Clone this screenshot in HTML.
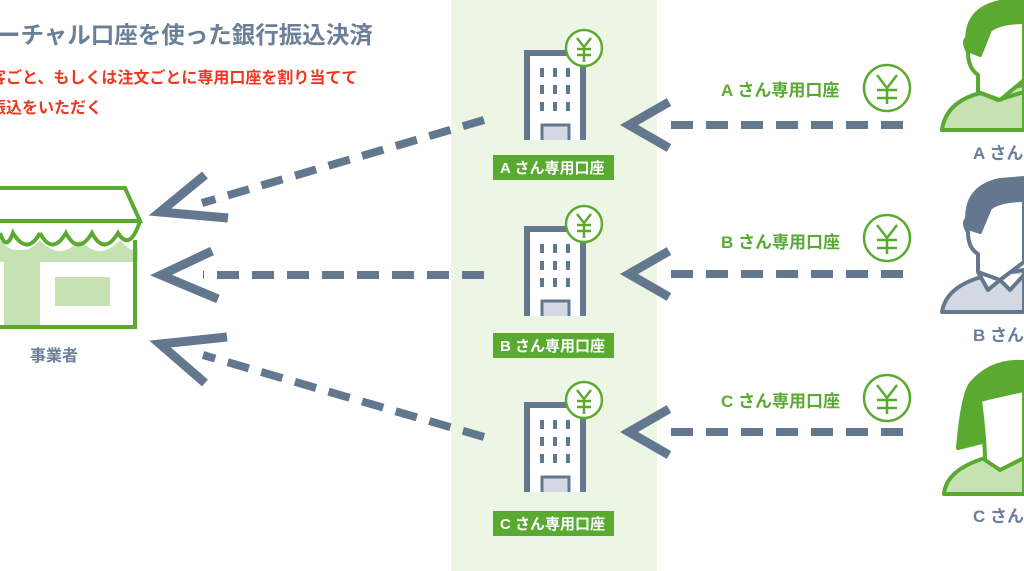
<!DOCTYPE html>
<html><head><meta charset="utf-8"><style>
html,body{margin:0;padding:0;background:#fff;width:1024px;height:571px;overflow:hidden}
svg{display:block}
text{font-family:"Liberation Sans","Noto Sans CJK JP",sans-serif;font-weight:bold}
</style></head><body>
<svg width="1024" height="571" viewBox="0 0 1024 571" xmlns="http://www.w3.org/2000/svg">
<rect x="451" y="0" width="206" height="571" fill="#edf5e5"/>
<text x="-3" y="43" font-size="23.5" fill="#6b7f99">ーチャル口座を使った銀行振込決済</text>
<text x="-10" y="83" font-size="16" fill="#f0361c">客ごと、もしくは注文ごとに専用口座を割り当てて</text>
<text x="-10" y="113" font-size="16" fill="#f0361c">振込をいただく</text>

<!-- shop -->
<g stroke="#5aaa32" stroke-width="4" fill="none">
<rect x="4" y="250" width="36" height="77" fill="#c6e2b3" stroke="none"/>
<rect x="55" y="277" width="55" height="29" fill="#c6e2b3" stroke="none"/>
<path d="M0 240 Q20 262 40 240 Q60 262 80 240 Q100 262 120 240 Q132 254 138 248 L138 262 L0 262 Z" fill="#c6e2b3" stroke="none"/>
<path d="M-2 188 L125 188 L140 221 L-2 221"/>
<path d="M0 233 Q6 252 13 233 Q27 256 40 233 M40 233 Q52 256 66 233 Q78 256 92 233 Q104 256 118 233 Q130 252 140 221"/>
<path d="M135 240 L135 327 L-2 327"/>
</g>
<text x="30" y="361" font-size="16" fill="#6b7f99">事業者</text>

<!-- left arrows -->
<g stroke="#63788f" stroke-width="8" fill="none">
<path d="M484 120 L202 203" stroke-dasharray="22 13"/>
<path d="M205 175 L160 212 L228 218" stroke-width="9"/>
<path d="M484 275 L203 275" stroke-dasharray="22 13"/>
<path d="M212 251 L161 275 L218 299" stroke-width="9"/>
<path d="M484 437 L203 355" stroke-dasharray="22 13"/>
<path d="M227 337 L160 344 L205 383" stroke-width="9"/>
</g>

<!-- buildings -->
<g id="bld">
<rect x="527" y="53" width="56" height="90" fill="#fff" stroke="#63788f" stroke-width="6"/>
<g fill="#63788f">
<rect x="540" y="68" width="4" height="9"/><rect x="553" y="68" width="4" height="9"/><rect x="566" y="68" width="4" height="9"/>
<rect x="540" y="85" width="4" height="9"/><rect x="553" y="85" width="4" height="9"/><rect x="566" y="85" width="4" height="9"/>
<rect x="540" y="102" width="4" height="9"/><rect x="553" y="102" width="4" height="9"/><rect x="566" y="102" width="4" height="9"/>
</g>
<rect x="542" y="125" width="27" height="18" fill="#d3d9e3" stroke="#63788f" stroke-width="3"/>
<rect x="520" y="140" width="70" height="6" fill="#edf5e5"/>
<circle cx="584" cy="48" r="18" fill="#fff" stroke="#5aaa32" stroke-width="2.5"/>
<path d="M577 38 L584 47 L591 38 M577 49 H591 M577 55 H591 M584 47 V62" stroke="#5aaa32" stroke-width="2.5" fill="none"/>
</g>
<use href="#bld" transform="translate(0,176)"/>
<use href="#bld" transform="translate(0,352)"/>
<g fill="#5aaa32">
<rect x="493" y="155" width="121" height="25"/>
<rect x="493" y="333" width="121" height="25"/>
<rect x="493" y="511" width="121" height="25"/>
</g>
<g font-size="15" fill="#fff">
<text x="500" y="173">A さん専用口座</text>
<text x="500" y="351">B さん専用口座</text>
<text x="500" y="529">C さん専用口座</text>
</g>

<!-- right arrows -->
<g stroke="#63788f" stroke-width="8" fill="none">
<path d="M903 125 L668 125" stroke-dasharray="22 13"/>
<path d="M669 102 L629 125 L669 148" stroke-width="9"/>
<path d="M903 274 L668 274" stroke-dasharray="22 13"/>
<path d="M669 251 L629 274 L669 297" stroke-width="9"/>
<path d="M903 432 L668 432" stroke-dasharray="22 13"/>
<path d="M669 409 L629 432 L669 455" stroke-width="9"/>
</g>
<g font-size="17" fill="#5aaa32">
<text x="721" y="96">A さん専用口座</text>
<text x="721" y="248">B さん専用口座</text>
<text x="721" y="407">C さん専用口座</text>
</g>
<g id="yen" stroke="#5aaa32" stroke-width="2.5" fill="none">
<circle cx="887" cy="88" r="23" fill="#fff"/>
<path d="M877 75 L887 88 L897 75 M877 90 H897 M877 98 H897 M887 88 V104"/>
</g>
<use href="#yen" transform="translate(0,150)"/>
<use href="#yen" transform="translate(0,310)"/>

<!-- person A -->
<g stroke="#5aaa32" stroke-width="4" stroke-linejoin="round">
<path d="M942 130 Q946 100 985 92 L1024 85 L1024 130 Z" fill="#c6e2b3"/>
<path d="M978 92 L998 100 L1024 92" fill="none"/>
<path d="M968 52 Q962 40 968 38 Q966 12 1000 4 L1024 2 L1024 80 L1000 100 L978 92 L978 75 Q968 68 968 52 Z" fill="#fff"/>
<path d="M968 50 Q962 10 1000 2 L1024 0 L1024 22 Q1000 22 990 30 L980 55 Z" fill="#5aaa32"/>
</g>
<text x="973" y="159" font-size="17" fill="#6b7f99">A さん</text>
<!-- person B -->
<g stroke="#63788f" stroke-width="4" stroke-linejoin="round">
<path d="M942 312 Q946 286 985 276 L1024 270 L1024 312 Z" fill="#d3d9e3"/>
<path d="M978 272 L988 290 L1000 280 L1010 290 L1024 275" fill="#fff"/>
<path d="M968 232 Q962 222 968 218 Q966 190 1000 184 L1024 182 L1024 262 L1000 280 L978 272 L978 254 Q968 248 968 232 Z" fill="#fff"/>
<path d="M968 228 Q962 188 1000 180 L1024 178 L1024 200 Q1000 200 990 208 L980 232 Z" fill="#63788f"/>
</g>
<text x="973" y="341" font-size="17" fill="#6b7f99">B さん</text>
<!-- person C -->
<g stroke="#5aaa32" stroke-width="4" stroke-linejoin="round">
<path d="M944 494 Q946 470 985 458 L1024 452 L1024 494 Z" fill="#c6e2b3"/>
<path d="M958 448 Q962 400 970 385 Q990 360 1024 362 L1024 440 L990 440 Z" fill="#5aaa32"/>
<path d="M980 400 Q985 440 985 460 L1000 470 L1024 458 L1024 390 Q1000 395 980 400 Z" fill="#fff"/>
</g>
<text x="973" y="522" font-size="17" fill="#6b7f99">C さん</text>
</svg>
</body></html>
